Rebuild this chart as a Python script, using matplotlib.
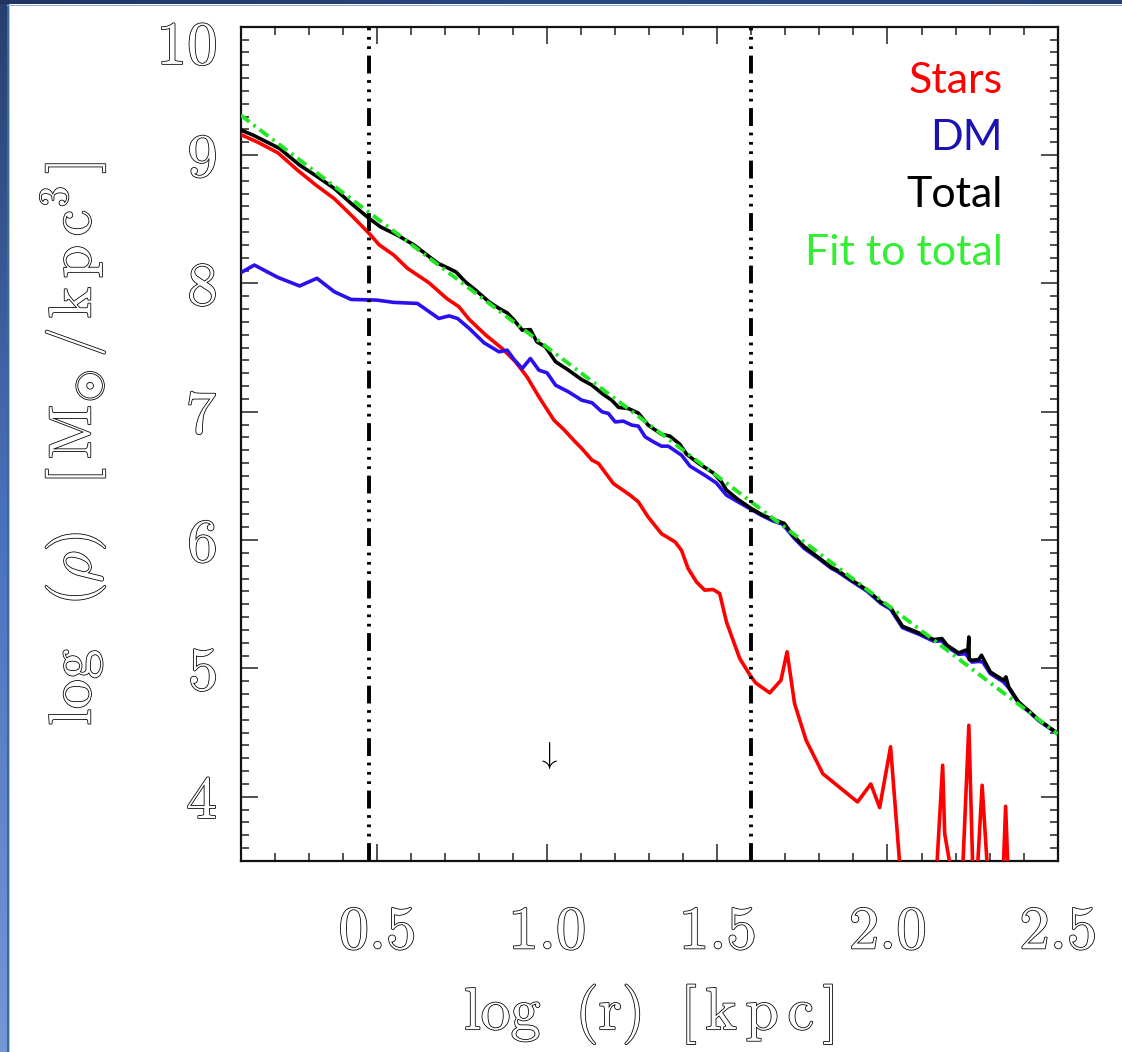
import numpy as np
import matplotlib
matplotlib.use('Agg')
import matplotlib.pyplot as plt
from matplotlib import patheffects as pe
from matplotlib import transforms as mtrans
from matplotlib.ticker import FixedLocator, MultipleLocator, FixedFormatter, NullFormatter
from matplotlib.colors import LinearSegmentedColormap

plt.rcParams['mathtext.fontset'] = 'cm'

# ---------------- data ----------------
stars_x = [0.100, 0.150, 0.209, 0.268, 0.321, 0.375, 0.429, 0.477, 0.507, 0.550,
           0.590, 0.653, 0.705, 0.741, 0.771, 0.820, 0.868, 0.907, 0.941, 0.976,
           1.020, 1.049, 1.083, 1.102, 1.132, 1.151, 1.195, 1.244, 1.268, 1.297,
           1.336, 1.376, 1.395, 1.414, 1.439, 1.463, 1.488, 1.507, 1.527, 1.566,
           1.597, 1.613, 1.654, 1.687, 1.705, 1.727, 1.761, 1.810, 1.912, 1.951,
           1.977, 2.009, 2.050, 2.135, 2.162, 2.168, 2.214, 2.239, 2.255, 2.278,
           2.304, 2.334, 2.347, 2.360, 2.500]
stars_y = [9.160, 9.100, 9.018, 8.880, 8.766, 8.660, 8.520, 8.390, 8.300, 8.220,
           8.117, 8.005, 7.883, 7.818, 7.720, 7.597, 7.493, 7.390, 7.272, 7.116,
           6.935, 6.862, 6.765, 6.714, 6.623, 6.597, 6.440, 6.350, 6.298, 6.180,
           6.050, 5.986, 5.920, 5.780, 5.674, 5.610, 5.615, 5.584, 5.362, 5.077,
           4.945, 4.887, 4.810, 4.908, 5.130, 4.727, 4.440, 4.180, 3.960, 4.100,
           3.916, 4.390, 3.000, 3.000, 4.246, 3.713, 3.000, 4.557, 3.000, 4.090,
           3.000, 3.000, 3.926, 3.000, 3.000]

dm_x = [0.100, 0.140, 0.209, 0.273, 0.324, 0.375, 0.424, 0.500, 0.550, 0.619,
        0.682, 0.712, 0.737, 0.771, 0.815, 0.859, 0.883, 0.903, 0.927, 0.951,
        0.976, 1.000, 1.025, 1.063, 1.102, 1.132, 1.161, 1.180, 1.200, 1.224,
        1.249, 1.268, 1.288, 1.312, 1.336, 1.356, 1.395, 1.420, 1.463, 1.497,
        1.527, 1.561, 1.595, 1.629, 1.663, 1.692, 1.727, 1.756, 1.795, 1.834,
        1.853, 1.892, 1.941, 1.980, 2.009, 2.044, 2.092, 2.136, 2.160, 2.175,
        2.209, 2.229, 2.248, 2.268, 2.280, 2.302, 2.341, 2.356, 2.385, 2.419,
        2.443, 2.500]
dm_y = [8.083, 8.143, 8.047, 7.980, 8.040, 7.935, 7.875, 7.870, 7.852, 7.844,
        7.727, 7.747, 7.727, 7.650, 7.537, 7.467, 7.480, 7.407, 7.337, 7.415,
        7.324, 7.303, 7.207, 7.155, 7.090, 7.070, 7.000, 6.987, 6.921, 6.927,
        6.896, 6.888, 6.805, 6.766, 6.732, 6.732, 6.662, 6.576, 6.506, 6.446,
        6.350, 6.298, 6.246, 6.194, 6.150, 6.124, 6.012, 5.934, 5.862, 5.782,
        5.755, 5.685, 5.600, 5.508, 5.462, 5.318, 5.267, 5.212, 5.215, 5.170,
        5.110, 5.115, 5.050, 5.055, 5.050, 4.960, 4.895, 4.850, 4.730, 4.655,
        4.596, 4.490]

total_x = [0.100, 0.136, 0.214, 0.273, 0.326, 0.375, 0.424, 0.477, 0.511, 0.560,
           0.609, 0.648, 0.680, 0.705, 0.732, 0.761, 0.790, 0.829, 0.859, 0.883,
           0.903, 0.927, 0.951, 0.970, 0.995, 1.025, 1.063, 1.102, 1.132, 1.161,
           1.190, 1.210, 1.239, 1.268, 1.297, 1.336, 1.361, 1.390, 1.410, 1.444,
           1.488, 1.512, 1.527, 1.561, 1.600, 1.634, 1.658, 1.697, 1.722, 1.756,
           1.795, 1.834, 1.853, 1.892, 1.941, 1.980, 2.009, 2.044, 2.092, 2.136,
           2.160, 2.175, 2.209, 2.229, 2.236, 2.239, 2.240, 2.248, 2.268, 2.276,
           2.302, 2.341, 2.348, 2.356, 2.385, 2.419, 2.443, 2.500]
total_y = [9.195, 9.156, 9.052, 8.922, 8.830, 8.740, 8.624, 8.507, 8.440, 8.376,
           8.300, 8.220, 8.156, 8.125, 8.090, 8.010, 7.948, 7.857, 7.805, 7.770,
           7.714, 7.636, 7.640, 7.545, 7.506, 7.390, 7.324, 7.250, 7.207, 7.143,
           7.090, 7.034, 7.025, 6.990, 6.896, 6.825, 6.810, 6.747, 6.669, 6.600,
           6.524, 6.454, 6.390, 6.316, 6.246, 6.194, 6.168, 6.130, 6.038, 5.947,
           5.869, 5.790, 5.765, 5.693, 5.610, 5.518, 5.474, 5.329, 5.277, 5.225,
           5.233, 5.181, 5.121, 5.142, 5.130, 5.245, 5.070, 5.064, 5.069, 5.103,
           4.973, 4.908, 4.934, 4.856, 4.739, 4.661, 4.602, 4.495]

fit_x = [0.10, 2.50]
fit_y = [9.31, 4.49]

vline_x = [0.477, 1.60]
arrow_x, arrow_y = 1.0, 4.32

xtick_vals = [0.5, 1.0, 1.5, 2.0, 2.5]
xtick_labels = ['0.5', '1.0', '1.5', '2.0', '2.5']
ytick_vals = [4, 5, 6, 7, 8, 9, 10]
ytick_labels = ['4', '5', '6', '7', '8', '9', '10']

legend_labels = ['Stars', 'DM', 'Total', 'Fit to total']
legend_colors = ['#ff0000', '#1a12b4', '#000000', '#33ee33']

# ---------------- figure ----------------
W, H = 1122, 1052
fig = plt.figure(figsize=(W / 100, H / 100), dpi=100)
fig.patch.set_facecolor('white')

# slide-like frame
bg = fig.add_axes([0, 0, 1, 1], zorder=-5)
bg.set_xlim(0, W)
bg.set_ylim(H, 0)
bg.axis('off')
grad = np.linspace(0, 1, 256).reshape(-1, 1)
cm_left = LinearSegmentedColormap.from_list('l', ['#263f6e', '#4a72bc', '#7497d6'])
bg.imshow(grad, cmap=cm_left, extent=[0, 7, H, 0], aspect='auto', zorder=1)
bg.add_patch(plt.Rectangle((7, 0), 2, H, color='#3d6699', zorder=2, lw=0))
bg.add_patch(plt.Rectangle((9, 0), 1.2, H, color='#b5cbe8', zorder=2, lw=0))
cm_top = LinearSegmentedColormap.from_list('t', ['#1f355f', '#2a4a7d', '#24416f'])
bg.imshow(grad.T, cmap=cm_top, extent=[0, W, 4.5, 0], aspect='auto', zorder=3)
bg.add_patch(plt.Rectangle((7, 4.5), W, 1.5, color='#8fb0da', zorder=3, lw=0))

# main axes
x0, x1, y0, y1 = 240.7, 1057.7, 26.7, 861.0
ax = fig.add_axes([x0 / W, 1 - y1 / H, (x1 - x0) / W, (y1 - y0) / H])
ax.set_xlim(0.1, 2.5)
ax.set_ylim(3.5, 10.0)

lw = 2.6
ax.plot(stars_x, stars_y, color='#ff0000', lw=lw, zorder=3)
ax.plot(dm_x, dm_y, color='#2a10f0', lw=lw, zorder=4)
ax.plot(total_x, total_y, color='#000000', lw=lw, zorder=5)
ax.plot(fit_x, fit_y, color='#22e622', lw=2.8, zorder=6,
        linestyle=(0, (2.8, 1.3, 0.7, 1.3)))
for xv in vline_x:
    ax.axvline(xv, color='black', lw=2.8, zorder=7,
               linestyle=(0, (4.6, 1.7, 0.7, 1.7, 0.7, 1.7, 0.7, 1.7)))

ax.text(arrow_x, arrow_y, r'$\downarrow$', ha='center', va='center',
        fontsize=22, color='black', zorder=8)

# legend as coloured text
leg_base_px = [93, 150, 207, 265]
for lab, col, by in zip(legend_labels, legend_colors, leg_base_px):
    ax.text((1003 - x0) / (x1 - x0), (y1 - by) / (y1 - y0), lab, color=col,
            ha='right', va='baseline', fontsize=31, family='Lato',
            transform=ax.transAxes, zorder=9)

hollow = [pe.withStroke(linewidth=1.15, foreground='black')]

# ticks
ax.xaxis.set_major_locator(FixedLocator(xtick_vals))
ax.xaxis.set_major_formatter(FixedFormatter(['$' + s + '$' for s in xtick_labels]))
ax.xaxis.set_minor_locator(MultipleLocator(0.1))
ax.yaxis.set_major_locator(FixedLocator(ytick_vals))
ax.yaxis.set_major_formatter(NullFormatter())
ax.yaxis.set_minor_locator(MultipleLocator(0.1))
ax.tick_params(which='both', direction='in', top=True, right=True,
               width=1.1, color='#222222')
ax.tick_params(which='major', length=12.5)
ax.tick_params(which='minor', length=6)
ax.tick_params(axis='x', which='major', labelsize=44, pad=30)
for s in ax.spines.values():
    s.set_linewidth(1.6)
    s.set_color('#111111')

for lbl in ax.get_xticklabels():
    lbl.set_color('white')
    lbl.set_path_effects(hollow)

# y tick labels (IDL places them slightly low; the top one sits below the axis top)
ytr = mtrans.blended_transform_factory(ax.transAxes, ax.transData)
for val, lab in zip(ytick_vals, ytick_labels):
    dy = 21 if val == ytick_vals[-1] else 5
    off = mtrans.ScaledTranslation(-23.5 / 100, -dy / 100, fig.dpi_scale_trans)
    ax.text(0, val, '$' + lab + '$', transform=ytr + off, ha='right', va='center',
            fontsize=44, color='white', path_effects=hollow, clip_on=False)

ax.set_xlabel(r'$\mathrm{log}\ \ (\mathrm{r})\ \ [\,\mathrm{k\/p\/c}\,]$', fontsize=43,
              color='white', path_effects=hollow)
ax.xaxis.set_label_coords(0.5, (y1 - 982) / (y1 - y0))
ax.set_ylabel(r'$\mathrm{log}\ \ \,(\rho)\ \ \,[\,\mathrm{M}_{\odot}\,/\,\mathrm{k\/p\/c}^{3}\,]$',
              fontsize=43, color='white', path_effects=hollow)
ax.yaxis.set_label_coords((108 - x0) / (x1 - x0), 0.5)

fig.savefig('out.png', dpi=100, facecolor='white')
